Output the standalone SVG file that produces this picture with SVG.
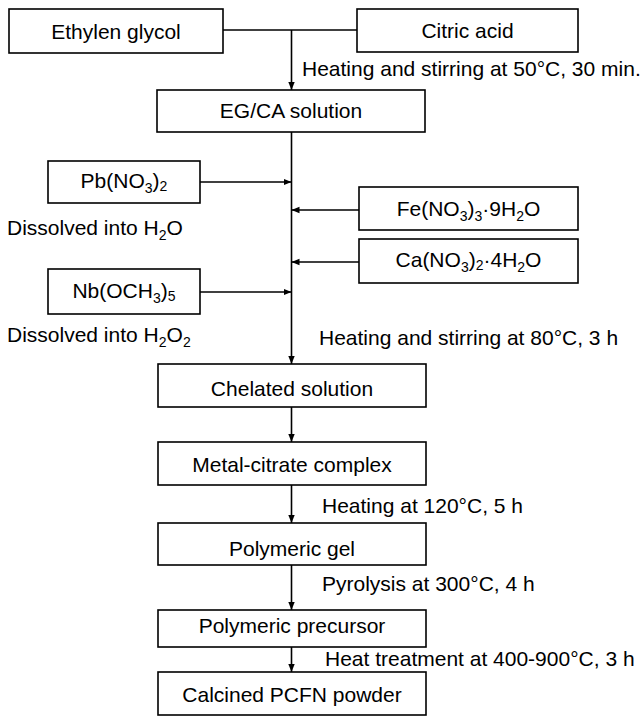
<svg xmlns="http://www.w3.org/2000/svg" width="642" height="726" viewBox="0 0 642 726">
<style>
  .box{fill:#fff;stroke:#000;stroke-width:1.6}
  .t{font-family:"Liberation Sans",Arial,sans-serif;font-size:21px;fill:#000}
  .c{text-anchor:middle}
  .ln{fill:none;stroke:#000;stroke-width:1.6}
</style>
<defs>
  <marker id="ah" markerUnits="userSpaceOnUse" markerWidth="9" markerHeight="8" refX="8" refY="4" orient="auto">
    <path d="M0,0.8 L8,4 L0,7.2 z" fill="#000"/>
  </marker>
</defs>

<g id="connectors">
  <path class="ln" d="M223,30 H357"/>
  <path class="ln" d="M291.5,30 V90" marker-end="url(#ah)"/>
  <path class="ln" d="M291.5,132 V364" marker-end="url(#ah)"/>
  <path class="ln" d="M200,182 H291.5" marker-end="url(#ah)"/>
  <path class="ln" d="M200,292 H291.5" marker-end="url(#ah)"/>
  <path class="ln" d="M359,210 H291.5" marker-end="url(#ah)"/>
  <path class="ln" d="M359,262 H291.5" marker-end="url(#ah)"/>
  <path class="ln" d="M291.5,407 V442" marker-end="url(#ah)"/>
  <path class="ln" d="M291.5,485 V523" marker-end="url(#ah)"/>
  <path class="ln" d="M291.5,565 V610" marker-end="url(#ah)"/>
  <path class="ln" d="M291.5,647 V672" marker-end="url(#ah)"/>
</g>

<g id="ethylen">
  <rect class="box" x="9" y="9" width="214" height="44"/>
  <text class="t c" x="116" y="38.5">Ethylen glycol</text>
</g>
<g id="citric">
  <rect class="box" x="357" y="9" width="221" height="43"/>
  <text class="t c" x="467.5" y="38">Citric acid</text>
</g>
<g id="egca">
  <rect class="box" x="157" y="90" width="268" height="42"/>
  <text class="t c" x="291" y="118">EG/CA solution</text>
</g>
<g id="pb">
  <rect class="box" x="48" y="161" width="152" height="42"/>
  <text class="t c" x="124" y="188">Pb(NO<tspan font-size="14" dy="5">3</tspan><tspan dy="-5">)</tspan><tspan font-size="14" dy="3">2</tspan></text>
</g>
<g id="fe">
  <rect class="box" x="359" y="187" width="219" height="43"/>
  <text class="t c" x="468.5" y="216">Fe(NO<tspan font-size="14" dy="5">3</tspan><tspan dy="-5">)</tspan><tspan font-size="14" dy="5">3</tspan><tspan dy="-5">·9H</tspan><tspan font-size="14" dy="5">2</tspan><tspan dy="-5">O</tspan></text>
</g>
<g id="ca">
  <rect class="box" x="359" y="239" width="219" height="44"/>
  <text class="t c" x="468.5" y="267">Ca(NO<tspan font-size="14" dy="5">3</tspan><tspan dy="-5">)</tspan><tspan font-size="14" dy="3">2</tspan><tspan dy="-3">·4H</tspan><tspan font-size="14" dy="5">2</tspan><tspan dy="-5">O</tspan></text>
</g>
<g id="nb">
  <rect class="box" x="48" y="269" width="152" height="45"/>
  <text class="t c" x="124" y="298">Nb(OCH<tspan font-size="14" dy="5">3</tspan><tspan dy="-5">)</tspan><tspan font-size="14" dy="3">5</tspan></text>
</g>
<g id="chelated">
  <rect class="box" x="158" y="364" width="268" height="43"/>
  <text class="t c" x="292" y="396">Chelated solution</text>
</g>
<g id="metal">
  <rect class="box" x="158" y="442" width="268" height="43"/>
  <text class="t c" x="292" y="472">Metal-citrate complex</text>
</g>
<g id="gel">
  <rect class="box" x="158" y="523" width="268" height="42"/>
  <text class="t c" x="292" y="556">Polymeric gel</text>
</g>
<g id="precursor">
  <rect class="box" x="158" y="610" width="268" height="37"/>
  <text class="t c" x="292" y="633">Polymeric precursor</text>
</g>
<g id="calcined">
  <rect class="box" x="158" y="672" width="268" height="43"/>
  <text class="t c" x="292" y="702">Calcined PCFN powder</text>
</g>

<g id="labels">
  <text class="t" x="302" y="76">Heating and stirring at 50°C, 30 min.</text>
  <text class="t" x="7" y="235">Dissolved into H<tspan font-size="14" dy="5">2</tspan><tspan dy="-5">O</tspan></text>
  <text class="t" x="7" y="342">Dissolved into H<tspan font-size="14" dy="5">2</tspan><tspan dy="-5">O</tspan><tspan font-size="14" dy="5">2</tspan></text>
  <text class="t" x="319" y="345">Heating and stirring at 80°C, 3 h</text>
  <text class="t" x="322" y="513">Heating at 120°C, 5 h</text>
  <text class="t" x="322" y="591">Pyrolysis at 300°C, 4 h</text>
  <text class="t" x="325" y="666">Heat treatment at 400-900°C, 3 h</text>
</g>
</svg>
